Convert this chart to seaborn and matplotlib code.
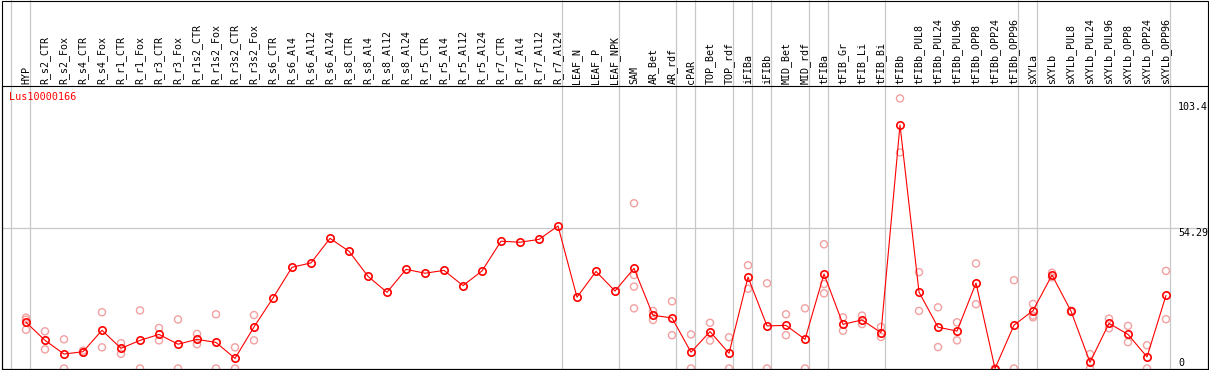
import pandas as pd
import numpy as np
import seaborn as sns
import matplotlib.pyplot as plt
from matplotlib.patches import Rectangle
import matplotlib.transforms as mtransforms

# Sample names along the top
labels = [
    'HYP', 'R_s2_CTR', 'R_s2_Fox', 'R_s4_CTR', 'R_s4_Fox', 'R_r1_CTR', 'R_r1_Fox',
    'R_r3_CTR', 'R_r3_Fox', 'R_r1s2_CTR', 'R_r1s2_Fox', 'R_r3s2_CTR', 'R_r3s2_Fox',
    'R_s6_CTR', 'R_s6_Al4', 'R_s6_Al12', 'R_s6_Al24', 'R_s8_CTR', 'R_s8_Al4',
    'R_s8_Al12', 'R_s8_Al24', 'R_r5_CTR', 'R_r5_Al4', 'R_r5_Al12', 'R_r5_Al24',
    'R_r7_CTR', 'R_r7_Al4', 'R_r7_Al12', 'R_r7_Al24', 'LEAF_N', 'LEAF_P', 'LEAF_NPK',
    'SAM', 'AR_Bet', 'AR_rdf', 'cPAR', 'TOP_Bet', 'TOP_rdf', 'iFIBa', 'iFIBb',
    'MID_Bet', 'MID_rdf', 'tFIBa', 'tFIB_Gr', 'tFIB_Li', 'tFIB_Bi', 'tFIBb',
    'tFIBb_PUL8', 'tFIBb_PUL24', 'tFIBb_PUL96', 'tFIBb_OPP8', 'tFIBb_OPP24',
    'tFIBb_OPP96', 'sXYLa', 'sXYLb', 'sXYLb_PUL8', 'sXYLb_PUL24', 'sXYLb_PUL96',
    'sXYLb_OPP8', 'sXYLb_OPP24', 'sXYLb_OPP96',
]

# Mean expression per sample
means = [
    17.9, 10.9, 5.6, 6.5, 14.8, 7.8, 10.9, 13.2, 9.4, 11.3,
    10.1, 3.9, 16.1, 27.3, 39.2, 40.9, 50.4, 45.4, 35.7, 29.5,
    38.4, 36.9, 38.0, 32.1, 37.8, 49.3, 48.9, 50.0, 55.2, 27.6,
    37.6, 30.0, 38.8, 20.6, 19.6, 6.3, 14.3, 5.9, 35.4, 16.5,
    16.7, 11.3, 36.6, 17.1, 18.8, 13.9, 94.3, 29.6, 16.0, 14.5,
    33.1, 0.0, 16.8, 22.4, 36.2, 22.2, 2.4, 17.5, 13.2, 4.5, 28.3,
]

# Individual replicates (empty = single replicate)
replicates = [
    [19.7, 18.9, 15.0], [14.4, 7.4], [11.3, 0.0], [6.9, 6.1], [21.8, 8.2],
    [9.8, 5.7], [22.5, 0.0], [15.7, 10.9], [19.0, 0.0], [13.4, 9.4],
    [21.0, 0.0], [8.2, 0.0], [20.7, 10.9],
    [], [], [], [], [], [], [], [], [], [], [], [], [], [], [], [],
    [], [], [],
    [64.0, 36.2, 31.7, 23.3], [22.3, 18.8], [26.0, 12.9], [13.2, 0.0],
    [17.7, 10.8], [12.1, 0.0], [40.0, 30.9], [33.0, 0.0], [21.0, 12.9],
    [23.3, 0.0], [48.1, 32.7, 29.1], [19.8, 14.6], [20.5, 17.2], [16.1, 12.2],
    [104.6, 83.7], [37.3, 22.3], [23.7, 8.3], [17.9, 10.9], [40.7, 24.9],
    [0.0, 0.0], [34.2, 0.0], [25.0, 20.5, 19.8], [37.1, 35.3], [22.0, 22.4],
    [5.6, 0.0], [19.3, 15.6], [16.5, 10.2], [9.0, 0.0], [37.8, 19.1],
]

# Last sample index of each group (separator lines)
group_ends = [-1, 0, 28, 31, 34, 35, 37, 38, 39, 41, 42, 45, 52, 53, 60]

y_ticks = [0, 54.29, 103.4]
gene = 'Lus10000166'

W, H = 1209, 370

sns.set_style('white')
plt.rcParams['font.family'] = ['DejaVu Sans Mono']

fig = plt.figure(figsize=(W / 100, H / 100), dpi=100)
ax_top_px, ax_bot_px = 86, 368.5
ax = fig.add_axes([1.5 / W, (H - ax_bot_px) / H, 1206 / W, (ax_bot_px - ax_top_px) / H])

pos = np.arange(len(labels))
rep_df = pd.DataFrame(
    [(i, v) for i, reps in enumerate(replicates) for v in reps],
    columns=['pos', 'value'],
)

# replicates as faint open circles
sns.scatterplot(data=rep_df, x='pos', y='value', ax=ax, s=26, marker='o',
                linewidth=1.0, zorder=2, legend=False)
rep_coll = ax.collections[-1]
rep_coll.set_facecolor('none')
rep_coll.set_edgecolor('#F2A0A0')

# mean line
sns.lineplot(x=pos, y=means, ax=ax, color='#FF0000', lw=0.8, marker='o', ms=5.3,
             mfc='none', mec='#FF0000', mew=1.2, zorder=3)

# x scale: 19 px per sample, first sample at 26 px
px_left, px_right = 1.5, 1207.5
ax.set_xlim((px_left - 26) / 19, (px_right - 26) / 19)
ax.set_ylim(0, (ax_bot_px - ax_top_px) / 2.582)
ax.set_xticks([])
ax.set_yticks([])
ax.set_xlabel('')
ax.set_ylabel('')
for sp in ax.spines.values():
    sp.set_color('black')
    sp.set_linewidth(0.8)

ax.axhline(54.29, color='#C8C8C8', lw=0.9, zorder=1)
ext = ax_bot_px / (ax_bot_px - ax_top_px)
for g in group_ends:
    ax.axvline(g + 4 / 19, ymin=0, ymax=ext, color='#C8C8C8', lw=0.9,
               clip_on=False, zorder=1)

trans = mtransforms.blended_transform_factory(ax.transData, ax.transAxes)
for i, lab in enumerate(labels):
    ax.text(i, 1.008, lab, rotation=90, ha='center', va='bottom',
            fontsize=7.2, transform=trans, color='black')

tick_x = (1178 - 26) / 19
ax.text(tick_x, y_ticks[0], '0', fontsize=7.2, ha='left', va='bottom', color='black')
ax.text(tick_x, y_ticks[1], '54.29', fontsize=7.2, ha='left', va='top', color='black')
ax.text(tick_x, y_ticks[2], '103.4', fontsize=7.2, ha='left', va='top', color='black')

ax.text(8 / 1206, (ax_bot_px - 97) / (ax_bot_px - ax_top_px), gene, color='#FF0000',
        fontsize=7.3, ha='left', va='center', transform=ax.transAxes)

fig.add_artist(Rectangle((1.5 / W, 1.5 / H), 1206 / W, 368 / H, fill=False,
                         edgecolor='black', lw=0.8, transform=fig.transFigure))

fig.savefig('out.png', dpi=100)
